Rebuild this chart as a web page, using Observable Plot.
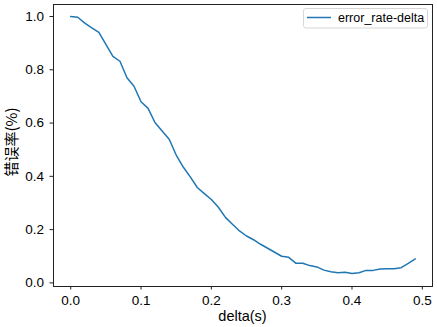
<!DOCTYPE html>
<html>
<head>
<meta charset="utf-8">
<script src="https://cdn.jsdelivr.net/npm/d3@7"></script>
<script src="https://cdn.jsdelivr.net/npm/@observablehq/plot@0.6"></script>
<style>
  html, body { margin: 0; padding: 0; background: #fff; }
  #chart svg { display: block; }
</style>
</head>
<body>
<div id="chart"></div>
<script>
const deltas = [0.00,0.01,0.02,0.03,0.04,0.05,0.06,0.07,0.08,0.09,
                0.10,0.11,0.12,0.13,0.14,0.15,0.16,0.17,0.18,0.19,
                0.20,0.21,0.22,0.23,0.24,0.25,0.26,0.27,0.28,0.29,
                0.30,0.31,0.32,0.33,0.34,0.35,0.36,0.37,0.38,0.39,
                0.40,0.41,0.42,0.43,0.44,0.45,0.46,0.47,0.48,0.49];
const errorRates = [1.000,0.997,0.975,0.957,0.940,0.895,0.850,0.832,0.770,0.738,
                    0.680,0.655,0.601,0.570,0.539,0.480,0.435,0.398,0.358,0.335,
                    0.313,0.284,0.246,0.220,0.195,0.176,0.162,0.145,0.130,0.115,
                    0.100,0.096,0.074,0.074,0.065,0.060,0.048,0.042,0.038,0.040,
                    0.035,0.038,0.047,0.047,0.052,0.053,0.053,0.057,0.073,0.090];
const xTicks = [0.0,0.1,0.2,0.3,0.4,0.5];
const yTicks = [0.0,0.2,0.4,0.6,0.8,1.0];
const seriesName = "error_rate-delta";
const xLabel = "delta(s)";
const yLabel = "错误率(%)";

const data = deltas.map((d, i) => ({delta: d, rate: errorRates[i]}));
const W = 437, H = 327, mL = 53, mR = 5, mT = 4, mB = 41;
const lineColor = "#1f77b4";
const font = "'Liberation Sans', Arial, sans-serif";

const chart = Plot.plot({
  width: W, height: H,
  marginLeft: mL, marginRight: mR, marginTop: mT, marginBottom: mB,
  style: {fontFamily: font, fontSize: "13.5px", color: "#000", background: "#fff"},
  x: {domain: [-0.0245, 0.5145], label: null},
  y: {domain: [-0.0135, 1.045], label: null},
  marks: [
    Plot.line(data, {x: "delta", y: "rate", stroke: lineColor, strokeWidth: 1.5}),
    Plot.frame({stroke: "#222", strokeWidth: 1}),
    Plot.axisX({ticks: xTicks, tickFormat: d3.format(".1f"), tickSize: 3.5, tickPadding: 5, label: null, fontSize: 13.5, stroke: "#222"}),
    Plot.axisY({ticks: yTicks, tickFormat: d3.format(".1f"), tickSize: 3.5, tickPadding: 6, label: null, fontSize: 13.5, stroke: "#222"})
  ]
});
document.getElementById("chart").appendChild(chart);

const svg = d3.select(chart);
// axis titles
svg.append("text")
  .attr("x", (mL + W - mR) / 2).attr("y", 321)
  .attr("text-anchor", "middle")
  .attr("font-family", font).attr("font-size", 14.5).attr("fill", "#000")
  .text(xLabel);
svg.append("text")
  .attr("transform", `translate(17, ${(mT + H - mB) / 2 - 3}) rotate(-90)`)
  .attr("text-anchor", "middle")
  .attr("font-family", "'Noto Sans CJK SC', " + font).attr("font-size", 15).attr("fill", "#000")
  .text(yLabel);
// legend
const lg = svg.append("g");
lg.append("rect")
  .attr("x", 303.5).attr("y", 8.5).attr("width", 124).attr("height", 19.5)
  .attr("rx", 2.5).attr("fill", "#fff").attr("fill-opacity", 0.8)
  .attr("stroke", "#d6d6d6").attr("stroke-width", 1);
lg.append("line")
  .attr("x1", 307).attr("x2", 331).attr("y1", 17.5).attr("y2", 17.5)
  .attr("stroke", lineColor).attr("stroke-width", 1.5);
lg.append("text")
  .attr("x", 338).attr("y", 22)
  .attr("text-anchor", "start")
  .attr("font-family", font).attr("font-size", 12.5).attr("fill", "#000")
  .text(seriesName);
</script>
</body>
</html>
